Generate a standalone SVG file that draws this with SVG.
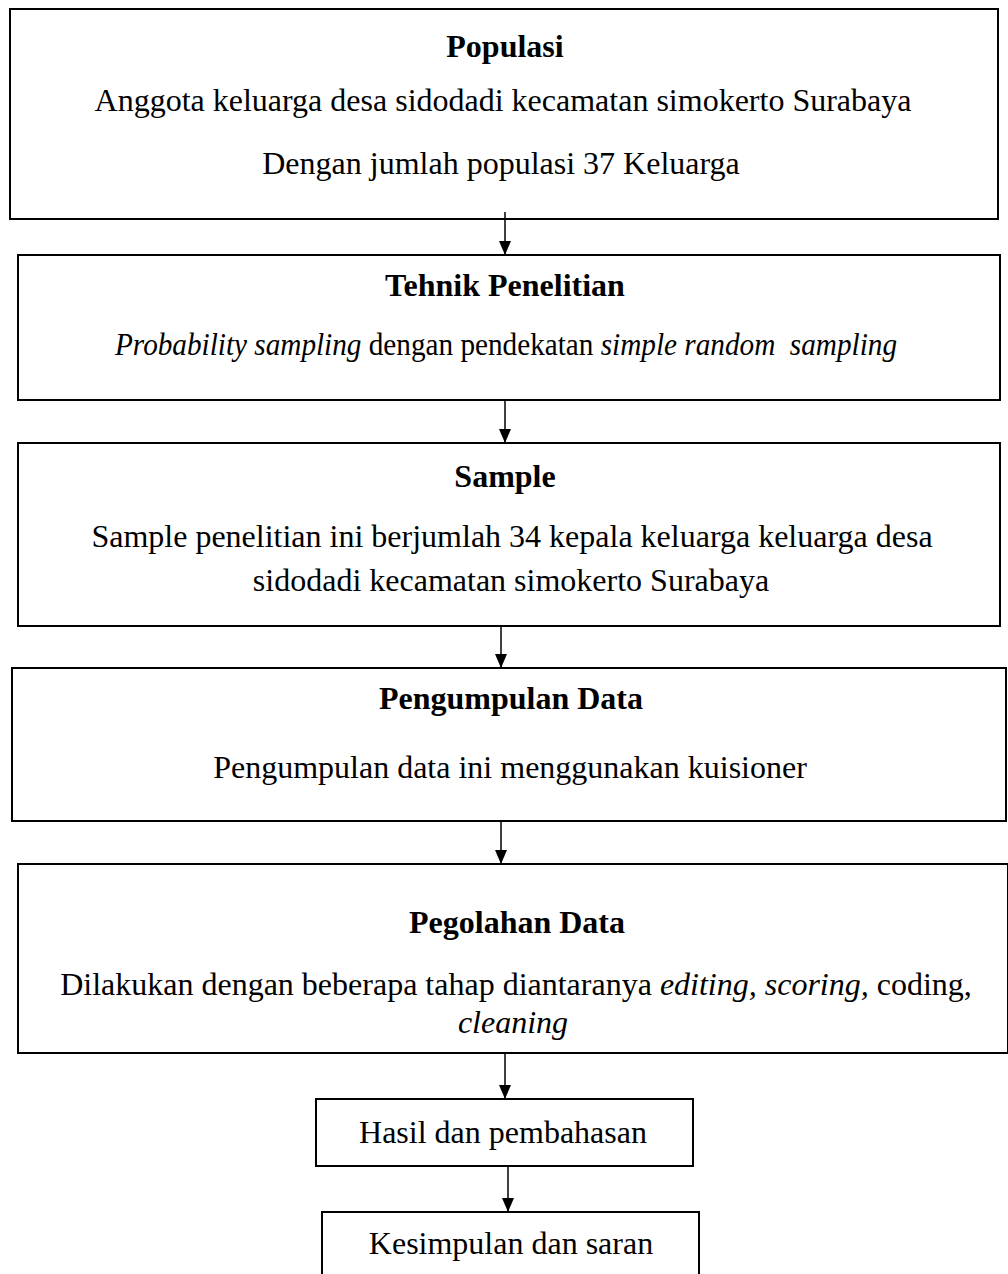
<svg xmlns="http://www.w3.org/2000/svg" width="1008" height="1274" viewBox="0 0 1008 1274">
<style>
text{font-family:"Liberation Serif","Times New Roman",serif;font-size:32px;fill:#000;text-anchor:middle;white-space:pre}
.b{font-weight:bold}
.i{font-style:italic}
rect{fill:#fff;stroke:#000;stroke-width:2}
.c line{stroke:#000;stroke-width:1.5}
</style>
<defs>
<marker id="ah" markerWidth="14" markerHeight="12" refX="14" refY="6" orient="auto" markerUnits="userSpaceOnUse" viewBox="0 0 14 12">
<path d="M0,0 L14,6 L0,12 Z" fill="#000"/>
</marker>
</defs>
<g id="n1"><rect x="10" y="9" width="988" height="210"/>
<text x="505" y="57" class="b">Populasi</text>
<text x="503" y="111">Anggota keluarga desa sidodadi kecamatan simokerto Surabaya</text>
<text x="501" y="174">Dengan jumlah populasi 37 Keluarga</text></g>
<g id="n2"><rect x="18" y="255" width="982" height="145"/>
<text x="505" y="296" class="b">Tehnik Penelitian</text>
<text x="506" y="355" textLength="782" lengthAdjust="spacingAndGlyphs"><tspan class="i">Probability sampling</tspan> dengan pendekatan <tspan class="i">simple random  sampling</tspan></text></g>
<g id="n3"><rect x="18" y="443" width="982" height="183"/>
<text x="505" y="487" class="b">Sample</text>
<text x="512" y="547">Sample penelitian ini berjumlah 34 kepala keluarga keluarga desa</text>
<text x="511" y="591">sidodadi kecamatan simokerto Surabaya</text></g>
<g id="n4"><rect x="12" y="668" width="994" height="153"/>
<text x="511" y="709" class="b">Pengumpulan Data</text>
<text x="510" y="778">Pengumpulan data ini menggunakan kuisioner</text></g>
<g id="n5"><rect x="18" y="864" width="990" height="189"/>
<text x="517" y="933" class="b">Pegolahan Data</text>
<text x="516" y="995">Dilakukan dengan beberapa tahap diantaranya <tspan class="i">editing, scoring,</tspan> coding,</text>
<text x="513" y="1033" class="i">cleaning</text></g>
<g id="n6"><rect x="316" y="1099" width="377" height="67"/>
<text x="503" y="1143">Hasil dan pembahasan</text></g>
<g id="n7"><rect x="322" y="1212" width="377" height="80"/>
<text x="511" y="1254">Kesimpulan dan saran</text></g>
<g class="c">
<line x1="505" y1="212" x2="505" y2="255" marker-end="url(#ah)"/>
<line x1="505" y1="400" x2="505" y2="443" marker-end="url(#ah)"/>
<line x1="501" y1="626" x2="501" y2="668" marker-end="url(#ah)"/>
<line x1="501" y1="821" x2="501" y2="864" marker-end="url(#ah)"/>
<line x1="505" y1="1053" x2="505" y2="1099" marker-end="url(#ah)"/>
<line x1="508" y1="1166" x2="508" y2="1212" marker-end="url(#ah)"/>
</g>
</svg>
